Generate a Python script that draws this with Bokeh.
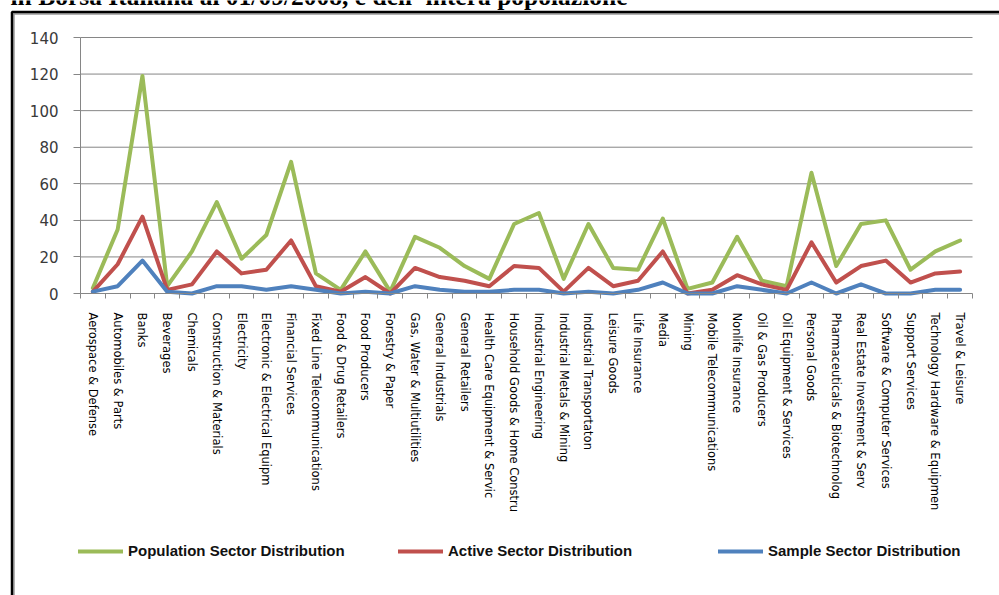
import math

from bokeh.plotting import figure
from bokeh.models import (Range1d, FixedTicker, Label, BoxAnnotation,
                          Legend, LegendItem)
from bokeh.embed import file_html
from bokeh.resources import INLINE

# Sectors of the Borsa Italiana listing (ICB classification)
sectors = [
    "Aerospace & Defense", "Automobiles & Parts", "Banks", "Beverages",
    "Chemicals", "Construction & Materials", "Electricity",
    "Electronic & Electrical Equipm", "Financial Services",
    "Fixed Line Telecommunications", "Food & Drug Retailers",
    "Food Producers", "Forestry & Paper", "Gas, Water & Multiutilities",
    "General Industrials", "General Retailers",
    "Health Care Equipment & Servic", "Household Goods & Home Constru",
    "Industrial Engineering", "Industrial Metals & Mining",
    "Industrial Transportaton", "Leisure Goods", "Life Insurance", "Media",
    "Mining", "Mobile Telecommunications", "Nonlife Insurance",
    "Oil & Gas Producers", "Oil Equipment & Services", "Personal Goods",
    "Pharmaceuticals & Biotechnolog", "Real Estate Investment & Serv",
    "Software & Computer Services", "Support Services",
    "Technology Hardware & Equipmen", "Travel & Leisure",
]

# Number of companies per sector
population = [3, 35, 119, 4, 23, 50, 19, 32, 72, 11, 2, 23, 1, 31, 25, 15,
              8, 38, 44, 8, 38, 14, 13, 41, 2.5, 6, 31, 7, 4, 66, 15, 38,
              40, 13, 23, 29]
active = [1, 16, 42, 2, 5, 23, 11, 13, 29, 4, 1, 9, 0, 14, 9, 7, 4, 15, 14,
          1, 14, 4, 7, 23, 0, 2, 10, 5, 2, 28, 6, 15, 18, 6, 11, 12]
sample = [1, 4, 18, 1, 0, 4, 4, 2, 4, 2, 0, 1, 0, 4, 2, 1, 1, 2, 2, 0, 1, 0,
          2, 6, 0, 0, 4, 2, 0, 6, 0, 5, 0, 0, 2, 2]

series_names = ["Population Sector Distribution", "Active Sector Distribution",
                "Sample Sector Distribution"]
series_colors = ["#9BBB59", "#C0504D", "#4F81BD"]
y_ticks = [0, 20, 40, 60, 80, 100, 120, 140]

title_text = "in Borsa Italiana al 01/09/2008, e dell' intera popolazione"

GRID = "#868686"
W, H = 999, 595
# pixel box of the chart area inside the page
AREA_L, AREA_R, AREA_T, AREA_B = 80, 972, 37, 293

n = len(sectors)
xs = list(range(n))
x_lo, x_hi = -0.5, n - 0.5
y_lo, y_hi = y_ticks[0], y_ticks[-1]

# the plotting frame covers the whole page; the ranges are stretched so the
# chart area lands on its pixel box and the margins hold title, labels, legend
px_x = (AREA_R - AREA_L) / (x_hi - x_lo)
px_y = (AREA_B - AREA_T) / (y_hi - y_lo)
x_range = Range1d(x_lo - AREA_L / px_x, x_hi + (W - AREA_R) / px_x)
y_range = Range1d(y_lo - (H - AREA_B) / px_y, y_hi + AREA_T / px_y)

p = figure(width=W, height=H, output_backend="svg", toolbar_location=None,
           x_range=x_range, y_range=y_range, min_border=0)
p.title.visible = False
p.outline_line_color = None
p.background_fill_color = "white"
p.border_fill_color = "white"
p.xgrid.visible = False
p.ygrid.visible = False

# horizontal gridlines across the chart area
grid_vals = y_ticks[1:]
p.segment(x0=[x_lo] * len(grid_vals), y0=grid_vals,
          x1=[x_hi] * len(grid_vals), y1=grid_vals,
          line_color=GRID, line_width=1)

# category axis: names at the centres, short ticks at the boundaries
xa = p.xaxis[0]
xa.fixed_location = y_lo
xa.bounds = (x_lo, x_hi)
xa.ticker = FixedTicker(ticks=xs,
                        minor_ticks=[i - 0.5 for i in range(n + 1)])
xa.major_label_overrides = {i: s for i, s in enumerate(sectors)}
xa.major_label_orientation = -math.pi / 2
xa.major_tick_out = 0
xa.major_tick_in = 0
xa.minor_tick_out = 5
xa.minor_tick_in = 0
xa.minor_tick_line_color = GRID
xa.axis_line_color = GRID
xa.major_label_standoff = 14
xa.major_label_text_font = "DejaVu Sans"
xa.major_label_text_font_size = "11.5px"
xa.major_label_text_color = "black"

ya = p.yaxis[0]
ya.fixed_location = x_lo
ya.bounds = (y_lo, y_hi)
ya.ticker = FixedTicker(ticks=y_ticks)
ya.major_tick_out = 7
ya.major_tick_in = 0
ya.minor_tick_out = 0
ya.minor_tick_in = 0
ya.axis_line_color = GRID
ya.major_tick_line_color = GRID
ya.major_label_standoff = 15
ya.major_label_text_font = "DejaVu Sans"
ya.major_label_text_font_size = "15px"
ya.major_label_text_color = "#3a3a3a"

renderers = []
for values, color in zip([population, active, sample], series_colors):
    r = p.line(xs, values, line_color=color, line_width=4,
               line_join="round", line_cap="round")
    renderers.append(r)

# one legend per series, spread evenly along the bottom
legend_x = [78, 398, 718]
legend_bottom = 559
for r, name, lx in zip(renderers, series_names, legend_x):
    lg = Legend(items=[LegendItem(label=name, renderers=[r])],
                location=(lx, H - legend_bottom), orientation="horizontal",
                padding=0, margin=0, spacing=0,
                glyph_width=45, glyph_height=16, label_height=16,
                label_standoff=5, border_line_color=None,
                background_fill_alpha=0,
                label_text_font="Liberation Sans",
                label_text_font_style="bold",
                label_text_font_size="15px",
                label_text_color="#111111")
    p.add_layout(lg)

# heading line of the page, partly cut off at the top
p.add_layout(Label(x=10, y=H + 4, x_units="screen", y_units="screen",
                   text=title_text, text_font="Liberation Serif",
                   text_font_style="bold", text_font_size="25.5px",
                   text_align="left", text_baseline="alphabetic",
                   text_color="black"))

# black frame around the figure box (left and top edges), with a soft shadow
p.add_layout(BoxAnnotation(left=13.5, right=W + 50, top=H - 13.5, bottom=-50,
                           left_units="screen", right_units="screen",
                           top_units="screen", bottom_units="screen",
                           fill_alpha=0, line_color="#9a9a9a",
                           line_alpha=1, line_width=1.5))
p.add_layout(BoxAnnotation(left=11.5, right=W + 50, top=H - 11.5, bottom=-50,
                           left_units="screen", right_units="screen",
                           top_units="screen", bottom_units="screen",
                           fill_alpha=0, line_color="black",
                           line_alpha=1, line_width=2.5))

open("out.html", "w").write(file_html(p, INLINE))
